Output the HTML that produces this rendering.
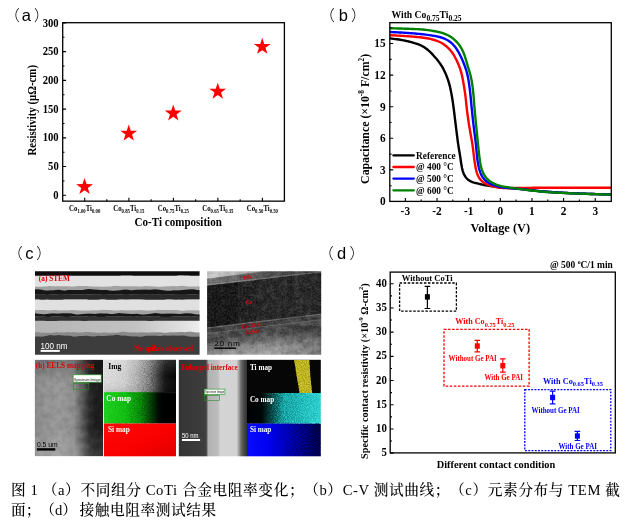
<!DOCTYPE html>
<html lang="zh-CN">
<head>
<meta charset="utf-8">
<title>图 1 CoTi 合金</title>
<style>
html,body{margin:0;padding:0;background:#fff;}
body{width:633px;height:532px;overflow:hidden;position:relative;}
svg{position:absolute;left:0;top:0;display:block;}
text{white-space:pre;text-spacing-trim:space-all;}
</style>
</head>
<body>
<svg width="633" height="532" viewBox="0 0 633 532">
<defs>


<filter id="b1" x="-5%" y="-5%" width="110%" height="110%"><feGaussianBlur stdDeviation="0.7"/></filter>
<filter id="b05" x="-5%" y="-5%" width="110%" height="110%"><feGaussianBlur stdDeviation="0.55"/></filter>
<filter id="nzA" x="0" y="0" width="100%" height="100%" color-interpolation-filters="sRGB">
 <feTurbulence type="fractalNoise" baseFrequency="0.16" numOctaves="3" seed="11"/>
 <feColorMatrix type="matrix" values="1 0 0 0 0  1 0 0 0 0  1 0 0 0 0  0 0 0 0 1"/>
 <feComponentTransfer><feFuncR type="linear" slope="1.8" intercept="-0.4"/><feFuncG type="linear" slope="1.8" intercept="-0.4"/><feFuncB type="linear" slope="1.8" intercept="-0.4"/></feComponentTransfer>
</filter>
<filter id="nzC" x="0" y="0" width="100%" height="100%" color-interpolation-filters="sRGB">
 <feTurbulence type="fractalNoise" baseFrequency="0.55" numOctaves="3" seed="23"/>
 <feColorMatrix type="matrix" values="1 0 0 0 0  1 0 0 0 0  1 0 0 0 0  0 0 0 0 1"/>
 <feComponentTransfer><feFuncR type="linear" slope="2.4" intercept="-0.7"/><feFuncG type="linear" slope="2.4" intercept="-0.7"/><feFuncB type="linear" slope="2.4" intercept="-0.7"/></feComponentTransfer>
</filter>
<filter id="nzB" x="0" y="0" width="100%" height="100%" color-interpolation-filters="sRGB">
 <feTurbulence type="fractalNoise" baseFrequency="1.1" numOctaves="2" seed="5"/>
 <feColorMatrix type="matrix" values="1 0 0 0 0  1 0 0 0 0  1 0 0 0 0  0 0 0 0 1"/>
 <feComponentTransfer><feFuncR type="linear" slope="3" intercept="-1"/><feFuncG type="linear" slope="3" intercept="-1"/><feFuncB type="linear" slope="3" intercept="-1"/></feComponentTransfer>
</filter>
<clipPath id="cSTEM"><rect x="35" y="271.3" width="164.6" height="83.5"/></clipPath>
<clipPath id="cTEM"><rect x="207.1" y="271.2" width="114.1" height="83.6"/></clipPath>
<clipPath id="cEELS"><rect x="34.8" y="359.8" width="68.5" height="96.5"/></clipPath>
<clipPath id="cENL"><rect x="178.8" y="360" width="67.6" height="96"/></clipPath>
<clipPath id="cTi"><rect x="246.4" y="360" width="74.4" height="33"/></clipPath>
<linearGradient id="gEELS" x1="0" x2="1" y1="0" y2="0">
 <stop offset="0" stop-color="#8a8a8a"/><stop offset="0.35" stop-color="#989898"/><stop offset="0.58" stop-color="#8c8c8c"/>
 <stop offset="0.70" stop-color="#585858"/><stop offset="0.80" stop-color="#2a2a2a"/><stop offset="0.88" stop-color="#1e1e1e"/><stop offset="1" stop-color="#1a1a1a"/>
</linearGradient>
<linearGradient id="gEELSv" x1="0" x2="0" y1="0" y2="1">
 <stop offset="0" stop-color="#000" stop-opacity="0.22"/><stop offset="0.25" stop-color="#000" stop-opacity="0"/>
 <stop offset="0.7" stop-color="#fff" stop-opacity="0"/><stop offset="1" stop-color="#fff" stop-opacity="0.12"/>
</linearGradient>
<linearGradient id="gImg" x1="0" x2="1" y1="0" y2="0">
 <stop offset="0" stop-color="#dcdcdc"/><stop offset="0.28" stop-color="#d0d0d0"/><stop offset="0.45" stop-color="#b2b2b2"/><stop offset="0.62" stop-color="#808080"/>
 <stop offset="0.75" stop-color="#3c3c3c"/><stop offset="0.85" stop-color="#121212"/><stop offset="1" stop-color="#040404"/>
</linearGradient>
<linearGradient id="gCoG" x1="0" x2="1" y1="0" y2="0">
 <stop offset="0" stop-color="#1ed01e"/><stop offset="0.3" stop-color="#12bc12"/><stop offset="0.5" stop-color="#0a8a0a"/>
 <stop offset="0.64" stop-color="#054405"/><stop offset="0.75" stop-color="#010c01"/><stop offset="0.82" stop-color="#000"/><stop offset="1" stop-color="#000"/>
</linearGradient>
<linearGradient id="gSiR" x1="0" x2="1" y1="0" y2="1">
 <stop offset="0" stop-color="#ff0808"/><stop offset="0.6" stop-color="#f80000"/><stop offset="1" stop-color="#e00000"/>
</linearGradient>
<linearGradient id="gENL" x1="0" x2="1" y1="0" y2="0">
 <stop offset="0" stop-color="#343434"/><stop offset="0.40" stop-color="#3e3e3e"/><stop offset="0.432" stop-color="#b2b2b2"/>
 <stop offset="0.57" stop-color="#bcbcbc"/><stop offset="0.61" stop-color="#d4d4d4"/><stop offset="0.845" stop-color="#d2d2d2"/>
 <stop offset="0.875" stop-color="#a8a8a8"/><stop offset="0.905" stop-color="#747474"/><stop offset="0.945" stop-color="#4e4e4e"/><stop offset="1" stop-color="#303030"/>
</linearGradient>
<linearGradient id="gCoC" x1="0" x2="1" y1="0" y2="0">
 <stop offset="0" stop-color="#000"/><stop offset="0.2" stop-color="#000606"/><stop offset="0.36" stop-color="#0a5656"/>
 <stop offset="0.5" stop-color="#18a4a4"/><stop offset="0.75" stop-color="#22bcbc"/><stop offset="1" stop-color="#30d0d0"/>
</linearGradient>
<linearGradient id="gSiB" x1="0" x2="1" y1="0" y2="0">
 <stop offset="0" stop-color="#0a0aff"/><stop offset="0.3" stop-color="#0000ee"/><stop offset="0.55" stop-color="#0000b4"/>
 <stop offset="0.8" stop-color="#000078"/><stop offset="1" stop-color="#000048"/>
</linearGradient>
<linearGradient id="gSTEMr" x1="0" x2="1" y1="0" y2="0">
 <stop offset="0" stop-color="#b4b4b4"/><stop offset="0.6" stop-color="#c2c2c2"/><stop offset="0.9" stop-color="#e2e2e2"/><stop offset="1" stop-color="#f0f0f0"/>
</linearGradient>
<linearGradient id="gTEMbot" gradientUnits="userSpaceOnUse" x1="264" y1="333" x2="267" y2="358">
 <stop offset="0" stop-color="#444"/><stop offset="0.2" stop-color="#5c5c5c"/><stop offset="0.5" stop-color="#828282"/><stop offset="0.8" stop-color="#a0a0a0"/><stop offset="1" stop-color="#aaa"/>
</linearGradient>
<linearGradient id="gTEMbotv" x1="0" x2="1" y1="0" y2="0">
 <stop offset="0" stop-color="#000" stop-opacity="0.16"/><stop offset="0.18" stop-color="#000" stop-opacity="0"/><stop offset="0.55" stop-color="#000" stop-opacity="0"/><stop offset="0.8" stop-color="#000" stop-opacity="0.2"/><stop offset="1" stop-color="#000" stop-opacity="0.34"/>
</linearGradient>
<linearGradient id="gTEMtop" x1="0" x2="1" y1="0" y2="0">
 <stop offset="0" stop-color="#6e6e6e"/><stop offset="0.3" stop-color="#5c5c5c"/><stop offset="0.6" stop-color="#444"/><stop offset="1" stop-color="#2c2c2c"/>
</linearGradient>
<linearGradient id="gTEMwedge" x1="0" x2="1" y1="0" y2="0">
 <stop offset="0" stop-color="#cacaca"/><stop offset="0.5" stop-color="#b0b0b0"/><stop offset="1" stop-color="#707070"/>
</linearGradient>
<linearGradient id="gTEMline" x1="0" x2="1" y1="0" y2="0">
 <stop offset="0" stop-color="#8a8a8a"/><stop offset="0.6" stop-color="#6c6c6c"/><stop offset="1" stop-color="#505050"/>
</linearGradient>
<linearGradient id="gTEMsix" x1="0" x2="1" y1="0" y2="0">
 <stop offset="0" stop-color="#505050"/><stop offset="0.3" stop-color="#3c3c3c"/><stop offset="1" stop-color="#464646"/>
</linearGradient>
<linearGradient id="gTEMco" x1="0" x2="1" y1="0" y2="0">
 <stop offset="0" stop-color="#080808"/><stop offset="0.22" stop-color="#0e0e0e"/><stop offset="0.45" stop-color="#1a1a1a"/><stop offset="0.8" stop-color="#202020"/><stop offset="1" stop-color="#181818"/>
</linearGradient>
<linearGradient id="gImgv" x1="0" x2="0" y1="0" y2="1">
 <stop offset="0" stop-color="#fff" stop-opacity="0.14"/><stop offset="0.5" stop-color="#fff" stop-opacity="0"/><stop offset="1" stop-color="#000" stop-opacity="0.1"/>
</linearGradient>
</defs>
<rect x="0" y="0" width="633" height="532" fill="#fff"/>

<g id="panel-a">
<text id="lab-a" y="20.9" fill="#000" font-family='"Liberation Sans", "Noto Sans CJK SC", sans-serif'><tspan x="4.65" font-size="15" font-weight="300">（</tspan><tspan x="21.75" font-size="16.5" font-weight="400">a</tspan><tspan x="34.1" font-size="15" font-weight="300">）</tspan></text>
<rect x="62.7" y="22.7" width="221.7" height="178.45" fill="none" stroke="#000" stroke-width="1.3"/>
<path d="M62.7 195.3h3.4M62.7 166.57h3.4M62.7 137.84h3.4M62.7 109.11h3.4M62.7 80.38h3.4M62.7 51.65h3.4M62.7 22.92h3.4M62.7 180.94h1.8M62.7 152.21h1.8M62.7 123.48h1.8M62.7 94.75h1.8M62.7 66.02h1.8M62.7 37.29h1.8M84.7 201.15v-3.4M128.9 201.15v-3.4M173.4 201.15v-3.4M217.9 201.15v-3.4M262.4 201.15v-3.4M106.8 201.15v-1.8M151.15 201.15v-1.8M195.65 201.15v-1.8M240.15 201.15v-1.8" stroke="#000" stroke-width="1.1" fill="none"/>
<text transform="translate(58.7 198.9) scale(0.93 1)" font-size="11.45" fill="#000" text-anchor="end" font-weight="bold" font-family='"Liberation Serif", "Noto Serif CJK SC", serif' >0</text>
<text transform="translate(58.7 170.17) scale(0.93 1)" font-size="11.45" fill="#000" text-anchor="end" font-weight="bold" font-family='"Liberation Serif", "Noto Serif CJK SC", serif' >50</text>
<text transform="translate(58.7 141.44) scale(0.93 1)" font-size="11.45" fill="#000" text-anchor="end" font-weight="bold" font-family='"Liberation Serif", "Noto Serif CJK SC", serif' >100</text>
<text transform="translate(58.7 112.71) scale(0.93 1)" font-size="11.45" fill="#000" text-anchor="end" font-weight="bold" font-family='"Liberation Serif", "Noto Serif CJK SC", serif' >150</text>
<text transform="translate(58.7 83.98) scale(0.93 1)" font-size="11.45" fill="#000" text-anchor="end" font-weight="bold" font-family='"Liberation Serif", "Noto Serif CJK SC", serif' >200</text>
<text transform="translate(58.7 55.25) scale(0.93 1)" font-size="11.45" fill="#000" text-anchor="end" font-weight="bold" font-family='"Liberation Serif", "Noto Serif CJK SC", serif' >250</text>
<text transform="translate(58.7 26.52) scale(0.93 1)" font-size="11.45" fill="#000" text-anchor="end" font-weight="bold" font-family='"Liberation Serif", "Noto Serif CJK SC", serif' >300</text>
<text x="84.7" y="210.8" font-size="7.5" fill="#000" text-anchor="middle" font-weight="bold" font-family='"Liberation Serif", "Noto Serif CJK SC", serif' textLength="31.2" lengthAdjust="spacingAndGlyphs">Co<tspan font-size="70%" dy="0.36em">1.00</tspan><tspan dy="-0.25em">&#8203;</tspan>Ti<tspan font-size="70%" dy="0.36em">0.00</tspan><tspan dy="-0.25em">&#8203;</tspan></text>
<text x="128.9" y="210.8" font-size="7.5" fill="#000" text-anchor="middle" font-weight="bold" font-family='"Liberation Serif", "Noto Serif CJK SC", serif' textLength="31.2" lengthAdjust="spacingAndGlyphs">Co<tspan font-size="70%" dy="0.36em">0.85</tspan><tspan dy="-0.25em">&#8203;</tspan>Ti<tspan font-size="70%" dy="0.36em">0.15</tspan><tspan dy="-0.25em">&#8203;</tspan></text>
<text x="173.4" y="210.8" font-size="7.5" fill="#000" text-anchor="middle" font-weight="bold" font-family='"Liberation Serif", "Noto Serif CJK SC", serif' textLength="31.2" lengthAdjust="spacingAndGlyphs">Co<tspan font-size="70%" dy="0.36em">0.75</tspan><tspan dy="-0.25em">&#8203;</tspan>Ti<tspan font-size="70%" dy="0.36em">0.25</tspan><tspan dy="-0.25em">&#8203;</tspan></text>
<text x="217.9" y="210.8" font-size="7.5" fill="#000" text-anchor="middle" font-weight="bold" font-family='"Liberation Serif", "Noto Serif CJK SC", serif' textLength="31.2" lengthAdjust="spacingAndGlyphs">Co<tspan font-size="70%" dy="0.36em">0.65</tspan><tspan dy="-0.25em">&#8203;</tspan>Ti<tspan font-size="70%" dy="0.36em">0.35</tspan><tspan dy="-0.25em">&#8203;</tspan></text>
<text x="262.4" y="210.8" font-size="7.5" fill="#000" text-anchor="middle" font-weight="bold" font-family='"Liberation Serif", "Noto Serif CJK SC", serif' textLength="31.2" lengthAdjust="spacingAndGlyphs">Co<tspan font-size="70%" dy="0.36em">0.50</tspan><tspan dy="-0.25em">&#8203;</tspan>Ti<tspan font-size="70%" dy="0.36em">0.50</tspan><tspan dy="-0.25em">&#8203;</tspan></text>
<text transform="translate(178.2 225.9) scale(0.93 1)" font-size="11.88" fill="#000" text-anchor="middle" font-weight="bold" font-family='"Liberation Serif", "Noto Serif CJK SC", serif' >Co-Ti composition</text>
<text transform="translate(36.05,110.25) rotate(-90)" font-size="11.9" font-weight="bold" text-anchor="middle" textLength="90.5" lengthAdjust="spacingAndGlyphs" font-family='"Liberation Serif", "Noto Serif CJK SC", serif'>Resistivity (μΩ-cm)</text>
<polygon points="84.55,178.03 86.58,184.09 92.97,184.15 87.83,187.95 89.75,194.04 84.55,190.33 79.35,194.04 81.27,187.95 76.13,184.15 82.52,184.09" fill="#ff0000"/>
<polygon points="128.75,124.59 130.78,130.65 137.17,130.71 132.03,134.51 133.95,140.6 128.75,136.89 123.55,140.6 125.47,134.51 120.33,130.71 126.72,130.65" fill="#ff0000"/>
<polygon points="173.25,104.48 175.28,110.54 181.67,110.6 176.53,114.4 178.45,120.49 173.25,116.78 168.05,120.49 169.97,114.4 164.83,110.6 171.22,110.54" fill="#ff0000"/>
<polygon points="217.75,82.65 219.78,88.71 226.17,88.76 221.03,92.56 222.95,98.66 217.75,94.95 212.55,98.66 214.47,92.56 209.33,88.76 215.72,88.71" fill="#ff0000"/>
<polygon points="262.25,37.83 264.28,43.89 270.67,43.94 265.53,47.74 267.45,53.84 262.25,50.13 257.05,53.84 258.97,47.74 253.83,43.94 260.22,43.89" fill="#ff0000"/>
</g>
<g id="panel-b">
<text id="lab-b" y="21" fill="#000" font-family='"Liberation Sans", "Noto Sans CJK SC", sans-serif'><tspan x="319.85" font-size="15" font-weight="300">（</tspan><tspan x="338.7" font-size="16.5" font-weight="400">b</tspan><tspan x="350.9" font-size="15" font-weight="300">）</tspan></text>
<clipPath id="cB"><rect x="389.8" y="22.7" width="221.5" height="178.7"/></clipPath>
<g clip-path="url(#cB)" fill="none" stroke-width="2.4" stroke-linejoin="round" stroke-linecap="round">
<path d="M382.65 37.26 L383.74 37.43 L385.22 37.64 L386.86 37.88 L388.54 38.13 L390.23 38.37 L391.92 38.61 L393.61 38.84 L395.3 39.07 L396.99 39.31 L398.68 39.55 L400.37 39.8 L402.05 40.08 L403.73 40.38 L405.4 40.71 L407.06 41.07 L408.73 41.46 L410.38 41.88 L412.03 42.32 L413.68 42.79 L415.32 43.28 L416.95 43.8 L418.54 44.38 L420.11 45.04 L421.64 45.77 L423.13 46.6 L424.59 47.5 L426 48.47 L427.35 49.49 L428.65 50.58 L429.9 51.73 L431.1 52.94 L432.28 54.19 L433.44 55.46 L434.58 56.73 L435.71 58.02 L436.82 59.31 L437.9 60.64 L438.93 61.99 L439.93 63.37 L440.89 64.78 L441.8 66.23 L442.66 67.7 L443.48 69.19 L444.25 70.71 L444.98 72.25 L445.68 73.81 L446.33 75.39 L446.96 76.98 L447.55 78.58 L448.11 80.19 L448.63 81.82 L449.11 83.45 L449.56 85.09 L449.97 86.75 L450.35 88.41 L450.71 90.08 L451.05 91.75 L451.37 93.43 L451.68 95.11 L451.97 96.79 L452.25 98.47 L452.52 100.16 L452.77 101.85 L453.02 103.54 L453.25 105.23 L453.48 106.92 L453.71 108.61 L453.93 110.3 L454.14 111.99 L454.35 113.68 L454.55 115.38 L454.76 117.07 L454.96 118.77 L455.17 120.46 L455.37 122.15 L455.58 123.85 L455.79 125.54 L456 127.23 L456.21 128.93 L456.42 130.62 L456.63 132.31 L456.85 134.01 L457.06 135.7 L457.28 137.39 L457.5 139.08 L457.72 140.78 L457.95 142.47 L458.19 144.15 L458.44 145.84 L458.69 147.53 L458.97 149.21 L459.25 150.89 L459.54 152.57 L459.83 154.26 L460.11 155.94 L460.37 157.63 L460.62 159.32 L460.85 161.02 L461.09 162.72 L461.34 164.41 L461.62 166.08 L461.95 167.75 L462.34 169.42 L462.8 171.07 L463.35 172.7 L464 174.28 L464.77 175.78 L465.69 177.19 L466.78 178.5 L468.01 179.66 L469.38 180.63 L470.84 181.41 L472.4 182.03 L474.03 182.54 L475.7 183.01 L477.38 183.44 L479.04 183.85 L480.71 184.24 L482.37 184.61 L484.05 184.95 L485.72 185.27 L487.4 185.56 L489.09 185.83 L490.77 186.09 L492.46 186.33 L494.15 186.56 L495.85 186.78 L497.54 186.99 L499.23 187.19 L500.93 187.38 L502.63 187.56 L504.32 187.73 L506.02 187.88 L507.72 188.01 L509.42 188.14 L511.13 188.26 L512.83 188.38 L514.53 188.49 L516.23 188.61 L517.93 188.74 L519.63 188.88 L521.33 189.04 L523.03 189.21 L524.73 189.39 L526.42 189.58 L528.12 189.79 L529.81 190 L531.5 190.21 L533.2 190.43 L534.89 190.64 L536.59 190.84 L538.28 191.04 L539.98 191.23 L541.67 191.4 L543.37 191.55 L545.07 191.7 L546.77 191.82 L548.47 191.95 L550.17 192.06 L551.87 192.18 L553.57 192.29 L555.27 192.4 L556.98 192.5 L558.68 192.6 L560.39 192.7 L562.09 192.79 L563.79 192.88 L565.5 192.97 L567.2 193.05 L568.91 193.13 L570.61 193.21 L572.32 193.29 L574.02 193.36 L575.73 193.43 L577.43 193.5 L579.14 193.57 L580.84 193.63 L582.55 193.69 L584.25 193.75 L585.96 193.8 L587.66 193.86 L589.37 193.91 L591.07 193.96 L592.78 194 L594.48 194.05 L596.19 194.1 L597.89 194.14 L599.6 194.18 L601.31 194.23 L603.01 194.27 L604.72 194.32 L606.42 194.36 L608.13 194.41 L609.83 194.45 L611.54 194.5 L613.24 194.55 L614.93 194.6 L616.56 194.64 L617.94 194.68" stroke="#000"/>
<path d="M382.58 34.83 L383.71 34.89 L385.24 34.97 L386.93 35.06 L388.67 35.15 L390.41 35.23 L392.15 35.32 L393.89 35.41 L395.63 35.49 L397.37 35.58 L399.1 35.67 L400.84 35.76 L402.58 35.86 L404.32 35.96 L406.06 36.08 L407.8 36.2 L409.53 36.33 L411.27 36.47 L413.01 36.61 L414.74 36.77 L416.47 36.94 L418.21 37.12 L419.94 37.3 L421.67 37.51 L423.4 37.73 L425.13 37.97 L426.85 38.25 L428.56 38.55 L430.26 38.9 L431.96 39.31 L433.65 39.76 L435.32 40.28 L436.96 40.86 L438.57 41.5 L440.14 42.22 L441.68 43.04 L443.17 43.94 L444.62 44.93 L446 45.99 L447.32 47.11 L448.58 48.31 L449.78 49.58 L450.91 50.91 L451.96 52.3 L452.94 53.73 L453.86 55.2 L454.72 56.72 L455.55 58.26 L456.34 59.81 L457.11 61.38 L457.84 62.96 L458.52 64.56 L459.16 66.18 L459.76 67.82 L460.32 69.47 L460.84 71.13 L461.32 72.8 L461.76 74.49 L462.15 76.18 L462.5 77.89 L462.83 79.6 L463.14 81.31 L463.43 83.03 L463.73 84.75 L464.02 86.47 L464.3 88.19 L464.58 89.91 L464.84 91.63 L465.09 93.35 L465.33 95.08 L465.54 96.8 L465.74 98.53 L465.92 100.26 L466.09 102 L466.26 103.73 L466.44 105.46 L466.63 107.19 L466.84 108.92 L467.05 110.65 L467.27 112.38 L467.49 114.11 L467.73 115.83 L467.97 117.56 L468.21 119.28 L468.46 121.01 L468.72 122.73 L468.98 124.45 L469.25 126.17 L469.53 127.89 L469.83 129.61 L470.13 131.32 L470.44 133.04 L470.75 134.75 L471.07 136.46 L471.37 138.18 L471.67 139.9 L471.97 141.61 L472.24 143.33 L472.51 145.05 L472.75 146.77 L472.98 148.5 L473.18 150.23 L473.38 151.96 L473.58 153.69 L473.79 155.42 L474 157.15 L474.23 158.88 L474.47 160.61 L474.72 162.33 L474.98 164.06 L475.27 165.77 L475.59 167.48 L475.94 169.19 L476.35 170.89 L476.83 172.56 L477.38 174.21 L478.05 175.81 L478.86 177.35 L479.81 178.8 L480.89 180.14 L482.13 181.34 L483.49 182.4 L484.96 183.32 L486.51 184.11 L488.11 184.79 L489.75 185.37 L491.42 185.89 L493.1 186.37 L494.79 186.79 L496.5 187.16 L498.21 187.46 L499.93 187.7 L501.66 187.88 L503.4 188 L505.14 188.06 L506.88 188.09 L508.62 188.09 L510.36 188.08 L512.1 188.07 L513.85 188.05 L515.59 188.04 L517.33 188.02 L519.07 188.01 L520.82 187.99 L522.56 187.97 L524.3 187.95 L526.04 187.93 L527.78 187.9 L529.52 187.87 L531.26 187.84 L533.01 187.82 L534.75 187.79 L536.49 187.77 L538.23 187.75 L539.97 187.73 L541.71 187.72 L543.45 187.71 L545.19 187.7 L546.94 187.7 L548.68 187.7 L550.42 187.7 L552.16 187.7 L553.9 187.7 L555.64 187.7 L557.39 187.7 L559.13 187.7 L560.87 187.7 L562.61 187.7 L564.35 187.7 L566.09 187.7 L567.83 187.7 L569.58 187.7 L571.32 187.7 L573.06 187.7 L574.8 187.7 L576.54 187.7 L578.28 187.7 L580.03 187.7 L581.77 187.7 L583.51 187.7 L585.25 187.7 L586.99 187.7 L588.73 187.7 L590.47 187.7 L592.22 187.7 L593.96 187.7 L595.7 187.7 L597.44 187.7 L599.18 187.7 L600.92 187.7 L602.67 187.7 L604.41 187.7 L606.15 187.7 L607.89 187.7 L609.63 187.7 L611.37 187.7 L613.11 187.7 L614.84 187.7 L616.5 187.7 L617.93 187.7" stroke="#ff0000"/>
<path d="M382.58 31.63 L383.73 31.69 L385.28 31.77 L386.99 31.86 L388.75 31.95 L390.51 32.04 L392.27 32.13 L394.03 32.22 L395.79 32.3 L397.55 32.39 L399.31 32.48 L401.07 32.57 L402.83 32.67 L404.58 32.78 L406.34 32.89 L408.1 33.01 L409.86 33.13 L411.62 33.26 L413.37 33.4 L415.13 33.55 L416.88 33.71 L418.64 33.87 L420.39 34.05 L422.15 34.23 L423.91 34.42 L425.67 34.63 L427.43 34.84 L429.19 35.08 L430.94 35.33 L432.69 35.6 L434.42 35.9 L436.14 36.22 L437.85 36.58 L439.54 37 L441.24 37.49 L442.92 38.07 L444.57 38.73 L446.17 39.48 L447.7 40.3 L449.17 41.23 L450.56 42.27 L451.9 43.43 L453.16 44.69 L454.35 46 L455.45 47.37 L456.48 48.79 L457.44 50.27 L458.34 51.79 L459.2 53.34 L460.02 54.9 L460.79 56.49 L461.53 58.09 L462.24 59.7 L462.92 61.33 L463.59 62.96 L464.23 64.6 L464.85 66.25 L465.44 67.91 L465.99 69.58 L466.51 71.27 L466.98 72.97 L467.4 74.67 L467.78 76.39 L468.12 78.12 L468.43 79.86 L468.72 81.6 L468.99 83.34 L469.24 85.08 L469.48 86.83 L469.71 88.57 L469.93 90.32 L470.13 92.07 L470.33 93.82 L470.52 95.58 L470.7 97.33 L470.87 99.08 L471.03 100.84 L471.19 102.59 L471.35 104.34 L471.52 106.1 L471.69 107.85 L471.86 109.61 L472.04 111.36 L472.22 113.11 L472.4 114.86 L472.59 116.62 L472.78 118.37 L472.97 120.12 L473.16 121.87 L473.36 123.62 L473.56 125.37 L473.77 127.12 L473.99 128.87 L474.21 130.62 L474.44 132.36 L474.66 134.11 L474.89 135.86 L475.11 137.61 L475.33 139.36 L475.54 141.11 L475.75 142.85 L475.94 144.61 L476.12 146.36 L476.29 148.11 L476.44 149.87 L476.58 151.62 L476.73 153.38 L476.89 155.13 L477.07 156.89 L477.28 158.64 L477.51 160.39 L477.77 162.13 L478.06 163.87 L478.39 165.6 L478.76 167.32 L479.19 169.03 L479.69 170.73 L480.27 172.4 L480.93 174.02 L481.71 175.6 L482.61 177.12 L483.63 178.55 L484.78 179.86 L486.06 181.03 L487.47 182.08 L488.97 183.01 L490.53 183.82 L492.14 184.54 L493.78 185.17 L495.46 185.73 L497.16 186.21 L498.87 186.63 L500.6 186.99 L502.33 187.3 L504.08 187.55 L505.83 187.74 L507.58 187.89 L509.34 188.02 L511.1 188.15 L512.85 188.28 L514.61 188.44 L516.36 188.6 L518.12 188.78 L519.87 188.96 L521.62 189.15 L523.37 189.34 L525.13 189.54 L526.88 189.74 L528.63 189.94 L530.38 190.15 L532.13 190.34 L533.88 190.54 L535.63 190.73 L537.39 190.91 L539.14 191.09 L540.89 191.25 L542.65 191.4 L544.4 191.55 L546.16 191.68 L547.91 191.81 L549.67 191.93 L551.43 192.05 L553.18 192.17 L554.94 192.29 L556.7 192.4 L558.46 192.51 L560.22 192.62 L561.98 192.72 L563.74 192.83 L565.5 192.92 L567.26 193.02 L569.02 193.11 L570.78 193.2 L572.54 193.28 L574.3 193.36 L576.06 193.44 L577.82 193.51 L579.58 193.58 L581.34 193.65 L583.1 193.71 L584.86 193.77 L586.62 193.83 L588.38 193.88 L590.14 193.93 L591.9 193.98 L593.66 194.03 L595.43 194.08 L597.19 194.12 L598.95 194.17 L600.71 194.21 L602.47 194.26 L604.23 194.3 L605.99 194.35 L607.76 194.4 L609.52 194.45 L611.28 194.49 L613.04 194.54 L614.79 194.59 L616.47 194.64 L617.91 194.68" stroke="#0000ff"/>
<path d="M382.58 27.97 L383.74 28.01 L385.31 28.06 L387.04 28.11 L388.82 28.17 L390.59 28.23 L392.37 28.29 L394.15 28.34 L395.93 28.4 L397.71 28.46 L399.48 28.51 L401.26 28.57 L403.04 28.63 L404.82 28.69 L406.6 28.75 L408.37 28.81 L410.15 28.87 L411.93 28.94 L413.71 29 L415.49 29.08 L417.26 29.16 L419.04 29.26 L420.81 29.37 L422.58 29.52 L424.36 29.69 L426.13 29.89 L427.9 30.12 L429.67 30.37 L431.44 30.65 L433.2 30.96 L434.94 31.28 L436.68 31.63 L438.41 32 L440.14 32.42 L441.86 32.9 L443.56 33.45 L445.24 34.07 L446.87 34.76 L448.46 35.53 L449.99 36.39 L451.48 37.37 L452.92 38.44 L454.29 39.59 L455.6 40.8 L456.83 42.07 L458 43.4 L459.11 44.81 L460.15 46.27 L461.09 47.78 L461.94 49.32 L462.72 50.91 L463.43 52.53 L464.08 54.2 L464.69 55.88 L465.26 57.57 L465.8 59.27 L466.29 60.98 L466.77 62.69 L467.26 64.41 L467.76 66.11 L468.29 67.81 L468.82 69.51 L469.35 71.21 L469.84 72.92 L470.3 74.64 L470.72 76.36 L471.1 78.1 L471.46 79.84 L471.78 81.59 L472.08 83.35 L472.34 85.1 L472.58 86.87 L472.8 88.63 L473 90.4 L473.19 92.17 L473.37 93.94 L473.54 95.71 L473.69 97.48 L473.83 99.26 L473.96 101.03 L474.09 102.8 L474.22 104.58 L474.36 106.35 L474.5 108.13 L474.65 109.9 L474.81 111.67 L474.98 113.44 L475.14 115.21 L475.31 116.98 L475.49 118.75 L475.66 120.52 L475.83 122.29 L476.01 124.06 L476.18 125.83 L476.35 127.6 L476.52 129.37 L476.7 131.14 L476.87 132.92 L477.05 134.69 L477.23 136.46 L477.4 138.23 L477.58 139.99 L477.76 141.76 L477.94 143.53 L478.12 145.3 L478.31 147.07 L478.49 148.84 L478.67 150.61 L478.85 152.38 L479.04 154.15 L479.25 155.92 L479.48 157.68 L479.72 159.45 L479.98 161.21 L480.27 162.97 L480.6 164.71 L480.98 166.45 L481.44 168.17 L481.97 169.87 L482.59 171.54 L483.3 173.16 L484.12 174.75 L485.05 176.27 L486.1 177.69 L487.27 179 L488.56 180.19 L489.97 181.28 L491.47 182.26 L493.02 183.14 L494.61 183.91 L496.26 184.6 L497.93 185.2 L499.64 185.71 L501.36 186.14 L503.1 186.52 L504.85 186.85 L506.6 187.15 L508.36 187.42 L510.12 187.67 L511.88 187.92 L513.65 188.15 L515.41 188.39 L517.17 188.63 L518.94 188.87 L520.7 189.11 L522.46 189.35 L524.23 189.59 L525.99 189.82 L527.76 190.06 L529.53 190.28 L531.29 190.5 L533.06 190.72 L534.83 190.92 L536.59 191.12 L538.36 191.31 L540.13 191.48 L541.9 191.64 L543.67 191.79 L545.44 191.93 L547.21 192.05 L548.99 192.17 L550.76 192.29 L552.53 192.4 L554.31 192.51 L556.08 192.61 L557.86 192.71 L559.64 192.81 L561.41 192.9 L563.19 192.99 L564.97 193.07 L566.75 193.16 L568.53 193.24 L570.3 193.32 L572.08 193.39 L573.86 193.46 L575.64 193.53 L577.42 193.6 L579.19 193.67 L580.97 193.73 L582.75 193.79 L584.53 193.85 L586.3 193.91 L588.08 193.97 L589.86 194.02 L591.64 194.07 L593.42 194.12 L595.19 194.17 L596.97 194.21 L598.75 194.26 L600.53 194.31 L602.31 194.35 L604.09 194.4 L605.86 194.45 L607.64 194.49 L609.42 194.54 L611.2 194.59 L612.98 194.64 L614.74 194.69 L616.45 194.74 L617.91 194.78" stroke="#008000"/>
</g>
<rect x="389.8" y="22.7" width="221.5" height="178.7" fill="none" stroke="#000" stroke-width="1.3"/>
<path d="M389.8 201.5h3.4M389.8 169.91h3.4M389.8 138.32h3.4M389.8 106.73h3.4M389.8 75.14h3.4M389.8 43.55h3.4M389.8 185.71h1.8M389.8 154.12h1.8M389.8 122.53h1.8M389.8 90.94h1.8M389.8 59.34h1.8M389.8 27.76h1.8M405.35 201.4v-3.4M437 201.4v-3.4M468.65 201.4v-3.4M500.3 201.4v-3.4M531.95 201.4v-3.4M563.6 201.4v-3.4M595.25 201.4v-3.4M421.18 201.4v-1.8M452.83 201.4v-1.8M484.48 201.4v-1.8M516.12 201.4v-1.8M547.77 201.4v-1.8M579.42 201.4v-1.8" stroke="#000" stroke-width="1.1" fill="none"/>
<text transform="translate(385.6 205.35) scale(0.93 1)" font-size="12.2" fill="#000" text-anchor="end" font-weight="bold" font-family='"Liberation Serif", "Noto Serif CJK SC", serif' >0</text>
<text transform="translate(385.6 173.76) scale(0.93 1)" font-size="12.2" fill="#000" text-anchor="end" font-weight="bold" font-family='"Liberation Serif", "Noto Serif CJK SC", serif' >3</text>
<text transform="translate(385.6 142.17) scale(0.93 1)" font-size="12.2" fill="#000" text-anchor="end" font-weight="bold" font-family='"Liberation Serif", "Noto Serif CJK SC", serif' >6</text>
<text transform="translate(385.6 110.58) scale(0.93 1)" font-size="12.2" fill="#000" text-anchor="end" font-weight="bold" font-family='"Liberation Serif", "Noto Serif CJK SC", serif' >9</text>
<text transform="translate(385.6 78.99) scale(0.93 1)" font-size="12.2" fill="#000" text-anchor="end" font-weight="bold" font-family='"Liberation Serif", "Noto Serif CJK SC", serif' >12</text>
<text transform="translate(385.6 47.4) scale(0.93 1)" font-size="12.2" fill="#000" text-anchor="end" font-weight="bold" font-family='"Liberation Serif", "Noto Serif CJK SC", serif' >15</text>
<text transform="translate(405.35 215) scale(0.93 1)" font-size="12.2" fill="#000" text-anchor="middle" font-weight="bold" font-family='"Liberation Serif", "Noto Serif CJK SC", serif' >-3</text>
<text transform="translate(437 215) scale(0.93 1)" font-size="12.2" fill="#000" text-anchor="middle" font-weight="bold" font-family='"Liberation Serif", "Noto Serif CJK SC", serif' >-2</text>
<text transform="translate(468.65 215) scale(0.93 1)" font-size="12.2" fill="#000" text-anchor="middle" font-weight="bold" font-family='"Liberation Serif", "Noto Serif CJK SC", serif' >-1</text>
<text transform="translate(500.3 215) scale(0.93 1)" font-size="12.2" fill="#000" text-anchor="middle" font-weight="bold" font-family='"Liberation Serif", "Noto Serif CJK SC", serif' >0</text>
<text transform="translate(531.95 215) scale(0.93 1)" font-size="12.2" fill="#000" text-anchor="middle" font-weight="bold" font-family='"Liberation Serif", "Noto Serif CJK SC", serif' >1</text>
<text transform="translate(563.6 215) scale(0.93 1)" font-size="12.2" fill="#000" text-anchor="middle" font-weight="bold" font-family='"Liberation Serif", "Noto Serif CJK SC", serif' >2</text>
<text transform="translate(595.25 215) scale(0.93 1)" font-size="12.2" fill="#000" text-anchor="middle" font-weight="bold" font-family='"Liberation Serif", "Noto Serif CJK SC", serif' >3</text>
<text transform="translate(500.3 231.6) scale(0.93 1)" font-size="13.28" fill="#000" text-anchor="middle" font-weight="bold" font-family='"Liberation Serif", "Noto Serif CJK SC", serif' >Voltage (V)</text>
<text transform="translate(369.2,118.9) rotate(-90)" font-size="13.2" font-weight="bold" text-anchor="middle" textLength="130" lengthAdjust="spacingAndGlyphs" font-family='"Liberation Serif", "Noto Serif CJK SC", serif'>Capacitance (×10<tspan font-size="62%" dy="-0.65em">-8</tspan><tspan dy="0.4em">&#8203;</tspan> F/cm<tspan font-size="62%" dy="-0.65em">2</tspan><tspan dy="0.4em">&#8203;</tspan>)</text>
<text transform="translate(391.5 17.8) scale(0.93 1)" font-size="10.37" fill="#000" text-anchor="start" font-weight="bold" font-family='"Liberation Serif", "Noto Serif CJK SC", serif' >With Co<tspan font-size="78%" dy="0.42em">0.75</tspan><tspan dy="-0.33em">&#8203;</tspan>Ti<tspan font-size="78%" dy="0.42em">0.25</tspan><tspan dy="-0.33em">&#8203;</tspan></text>
<path d="M393.4 155.4H413.8" stroke="#000" stroke-width="2.3" stroke-linecap="round"/>
<text transform="translate(416 158.6) scale(0.93 1)" font-size="10.04" fill="#000" text-anchor="start" font-weight="bold" font-family='"Liberation Serif", "Noto Serif CJK SC", serif' >Reference</text>
<path d="M393.4 167H413.8" stroke="#ff0000" stroke-width="2.3" stroke-linecap="round"/>
<text transform="translate(416 170.2) scale(0.93 1)" font-size="10.04" fill="#000" text-anchor="start" font-weight="bold" font-family='"Liberation Serif", "Noto Serif CJK SC", serif' >@ 400 °C</text>
<path d="M393.4 178.6H413.8" stroke="#0000ff" stroke-width="2.3" stroke-linecap="round"/>
<text transform="translate(416 181.8) scale(0.93 1)" font-size="10.04" fill="#000" text-anchor="start" font-weight="bold" font-family='"Liberation Serif", "Noto Serif CJK SC", serif' >@ 500 °C</text>
<path d="M393.4 190.3H413.8" stroke="#008000" stroke-width="2.3" stroke-linecap="round"/>
<text transform="translate(416 193.5) scale(0.93 1)" font-size="10.04" fill="#000" text-anchor="start" font-weight="bold" font-family='"Liberation Serif", "Noto Serif CJK SC", serif' >@ 600 °C</text>
</g>
<g id="panel-c">
<text id="lab-c" y="258.9" fill="#000" font-family='"Liberation Sans", "Noto Sans CJK SC", sans-serif'><tspan x="7.75" font-size="15" font-weight="300">（</tspan><tspan x="25.15" font-size="16.5" font-weight="400">c</tspan><tspan x="36.25" font-size="15" font-weight="300">）</tspan></text>
<g clip-path="url(#cSTEM)"><g filter="url(#b05)">
<polygon points="32,268 35,268 38,268 41,268 44,268 47,268 50,268 53,268 56,268 59,268 62,268 65,268 68,268 71,268 74,268 77,268 80,268 83,268 86,268 89,268 92,268 95,268 98,268 101,268 104,268 107,268 110,268 113,268 116,268 119,268 122,268 125,268 128,268 131,268 134,268 137,268 140,268 143,268 146,268 149,268 152,268 155,268 158,268 161,268 164,268 167,268 170,268 173,268 176,268 179,268 182,268 185,268 188,268 191,268 194,268 197,268 200,268 203,268 203,276.14 200,276.06 197,276.02 194,276.07 191,276.02 188,275.92 185,275.9 182,275.86 179,275.85 176,275.99 173,276.06 170,276.02 167,276.02 164,276.03 161,275.99 158,276.03 155,276.06 152,275.98 149,275.96 146,276.04 143,276.07 140,276.09 137,276.12 134,276.01 131,275.9 128,275.92 125,275.92 122,275.89 119,275.93 116,275.94 113,275.93 110,276.04 107,276.15 104,276.11 101,276.07 98,276.04 95,275.96 92,275.98 89,276.06 86,276.02 83,275.97 80,276.01 77,276.01 74,276 71,276.04 68,275.97 65,275.85 62,275.87 59,275.92 56,275.95 53,276.05 50,276.1 47,276.04 44,276.08 41,276.14 38,276.09 35,276.03 32,275.99" fill="#0e0e0e"/>
<polygon points="32,275.69 35,275.73 38,275.79 41,275.84 44,275.78 47,275.74 50,275.8 53,275.75 56,275.65 59,275.62 62,275.57 65,275.55 68,275.67 71,275.74 74,275.7 77,275.71 80,275.71 83,275.67 86,275.72 89,275.76 92,275.68 95,275.66 98,275.74 101,275.77 104,275.81 107,275.85 110,275.74 113,275.63 116,275.64 119,275.63 122,275.59 125,275.62 128,275.62 131,275.6 134,275.71 137,275.82 140,275.79 143,275.77 146,275.74 149,275.66 152,275.68 155,275.76 158,275.73 161,275.69 164,275.73 167,275.72 170,275.72 173,275.76 176,275.69 179,275.55 182,275.56 185,275.6 188,275.62 191,275.72 194,275.77 197,275.72 200,275.76 203,275.84 203,286.49 200,286.52 197,286.84 194,286.89 191,286.79 188,286.68 185,286.32 182,286.08 179,286.3 176,286.43 173,286.38 170,286.53 167,286.65 164,286.7 161,287.01 158,287.14 155,286.79 152,286.55 149,286.5 146,286.4 143,286.54 140,286.77 137,286.61 134,286.46 131,286.63 128,286.65 125,286.56 122,286.56 119,286.31 116,286.07 113,286.35 110,286.69 107,286.8 104,286.96 101,286.97 98,286.76 95,286.81 92,286.92 89,286.63 86,286.36 83,286.31 80,286.23 77,286.39 74,286.77 71,286.75 68,286.52 65,286.54 62,286.51 59,286.45 56,286.62 53,286.59 50,286.38 47,286.56 44,286.9 41,286.99 38,287.06 35,286.97 32,286.54" fill="#e2e2e2"/>
<polygon points="32,286.24 35,286.67 38,286.76 41,286.69 44,286.6 47,286.26 50,286.08 53,286.29 56,286.32 59,286.15 62,286.21 65,286.24 68,286.22 71,286.45 74,286.47 77,286.09 80,285.93 83,286.01 86,286.06 89,286.33 92,286.62 95,286.51 98,286.46 101,286.67 104,286.66 107,286.5 110,286.39 113,286.05 116,285.77 119,286.01 122,286.26 125,286.26 128,286.35 131,286.33 134,286.16 137,286.31 140,286.47 143,286.24 146,286.1 149,286.2 152,286.25 155,286.49 158,286.84 161,286.71 164,286.4 167,286.35 170,286.23 173,286.08 176,286.13 179,286 182,285.78 185,286.02 188,286.38 191,286.49 194,286.59 197,286.54 200,286.22 203,286.19 203,290.1 200,290.25 197,290.18 194,289.58 191,289.43 188,289.9 185,290.1 182,290.26 179,290.57 176,290.5 173,290.55 170,291.09 167,291.13 164,290.59 161,290.22 158,289.82 155,289.5 152,289.84 149,290.12 146,289.81 143,289.76 140,289.99 137,290.02 134,290.26 131,290.49 128,290.07 125,289.81 122,290.22 119,290.54 116,290.77 113,291.06 110,290.78 107,290.28 104,290.37 101,290.38 98,289.93 95,289.69 92,289.45 89,289.18 86,289.65 83,290.34 80,290.37 77,290.31 74,290.4 71,290.24 68,290.36 65,290.75 62,290.54 59,290.15 56,290.3 53,290.46 50,290.53 47,290.77 44,290.47 41,289.7 38,289.52 35,289.65 32,289.57" fill="#a2a2a2"/>
<polygon points="32,289.27 35,289.35 38,289.22 41,289.4 44,290.17 47,290.47 50,290.23 53,290.16 56,290 59,289.85 62,290.24 65,290.45 68,290.06 71,289.94 74,290.1 77,290.01 80,290.07 83,290.04 86,289.35 89,288.88 92,289.15 95,289.39 98,289.63 101,290.08 104,290.07 107,289.98 110,290.48 113,290.76 116,290.47 119,290.24 122,289.92 125,289.51 128,289.77 131,290.19 134,289.96 137,289.72 140,289.69 143,289.46 146,289.51 149,289.82 152,289.54 155,289.2 158,289.52 161,289.92 164,290.29 167,290.83 170,290.79 173,290.25 176,290.2 179,290.27 182,289.96 185,289.8 188,289.6 191,289.13 194,289.28 197,289.88 200,289.95 203,289.8 203,294.83 200,294.91 197,294.69 194,294.48 191,294.58 188,294.57 185,294.42 182,294.42 179,294.37 176,294.3 173,294.58 170,294.81 167,294.71 164,294.66 161,294.66 158,294.55 155,294.64 152,294.81 149,294.67 146,294.54 143,294.65 140,294.67 137,294.68 134,294.78 131,294.59 128,294.29 125,294.33 122,294.44 119,294.43 116,294.57 113,294.63 110,294.52 107,294.67 104,294.92 101,294.84 98,294.74 95,294.68 92,294.48 89,294.48 86,294.71 83,294.69 80,294.54 77,294.57 74,294.52 71,294.47 68,294.63 65,294.59 62,294.33 59,294.36 56,294.52 53,294.6 50,294.81 47,294.93 44,294.72 41,294.66 38,294.8 35,294.72 32,294.61" fill="#161616"/>
<polygon points="32,294.31 35,294.42 38,294.5 41,294.36 44,294.42 47,294.63 50,294.51 53,294.3 56,294.22 59,294.06 62,294.03 65,294.29 68,294.33 71,294.17 74,294.22 77,294.27 80,294.24 83,294.39 86,294.41 89,294.18 92,294.18 95,294.38 98,294.44 101,294.54 104,294.62 107,294.37 110,294.22 113,294.33 116,294.27 119,294.13 122,294.14 125,294.03 128,293.99 131,294.29 134,294.48 137,294.38 140,294.37 143,294.35 146,294.24 149,294.37 152,294.51 155,294.34 158,294.25 161,294.36 164,294.36 167,294.41 170,294.51 173,294.28 176,294 179,294.07 182,294.12 185,294.12 188,294.27 191,294.28 194,294.18 197,294.39 200,294.61 203,294.53 203,299.88 200,299.83 197,299.82 194,299.87 191,299.82 188,299.78 185,299.89 182,299.94 179,299.92 176,299.93 173,299.88 170,299.79 167,299.87 164,299.97 161,299.96 158,299.98 155,300 152,299.95 149,299.97 146,300.01 143,299.9 140,299.78 137,299.77 134,299.75 131,299.78 128,299.91 125,299.92 122,299.87 119,299.92 116,299.97 113,299.94 110,299.97 107,299.94 104,299.84 101,299.87 98,299.98 95,299.98 92,299.98 89,299.97 86,299.86 83,299.81 80,299.87 77,299.83 74,299.76 71,299.79 68,299.81 65,299.85 62,300 59,300.06 56,299.98 53,299.96 50,299.95 47,299.9 44,299.93 41,299.95 38,299.85 35,299.83 32,299.92" fill="#2a2a2a"/>
<polygon points="32,299.62 35,299.53 38,299.55 41,299.65 44,299.63 47,299.6 50,299.65 53,299.66 56,299.68 59,299.76 62,299.7 65,299.55 68,299.51 71,299.49 74,299.46 77,299.53 80,299.57 83,299.51 86,299.56 89,299.67 92,299.68 95,299.68 98,299.68 101,299.57 104,299.54 107,299.64 110,299.67 113,299.64 116,299.67 119,299.62 122,299.57 125,299.62 128,299.61 131,299.48 134,299.45 137,299.47 140,299.48 143,299.6 146,299.71 149,299.67 152,299.65 155,299.7 158,299.68 161,299.66 164,299.67 167,299.57 170,299.49 173,299.58 176,299.63 179,299.62 182,299.64 185,299.59 188,299.48 191,299.52 194,299.57 197,299.52 200,299.53 203,299.58 203,310.66 200,310.69 197,310.48 194,310.5 191,310.49 188,310.47 185,310.8 182,310.95 179,310.61 176,310.41 173,310.36 170,310.18 167,310.26 164,310.42 161,310.2 158,310.15 155,310.49 152,310.67 149,310.76 146,310.9 143,310.65 140,310.34 137,310.51 134,310.64 131,310.53 128,310.58 125,310.54 122,310.35 119,310.53 116,310.74 113,310.48 110,310.25 107,310.2 104,310.07 101,310.23 98,310.64 95,310.64 92,310.53 89,310.71 86,310.77 83,310.74 80,310.86 77,310.66 74,310.22 71,310.24 68,310.43 65,310.43 62,310.57 59,310.59 56,310.29 53,310.29 50,310.55 47,310.46 44,310.34 41,310.39 38,310.28 35,310.39 32,310.86" fill="#e0e0e0"/>
<polygon points="32,310.56 35,310.09 38,309.98 41,310.09 44,310.04 47,310.16 50,310.25 53,309.99 56,309.99 59,310.29 62,310.27 65,310.13 68,310.13 71,309.94 74,309.92 77,310.36 80,310.56 83,310.44 86,310.47 89,310.41 92,310.23 95,310.34 98,310.34 101,309.93 104,309.77 107,309.9 110,309.95 113,310.18 116,310.44 119,310.23 122,310.05 125,310.24 128,310.28 131,310.23 134,310.34 137,310.21 140,310.04 143,310.35 146,310.6 149,310.46 152,310.37 155,310.19 158,309.85 161,309.9 164,310.12 167,309.96 170,309.88 173,310.06 176,310.11 179,310.31 182,310.65 185,310.5 188,310.17 191,310.19 194,310.2 197,310.18 200,310.39 203,310.36 203,314.11 200,314.65 197,314.68 194,314.21 191,313.92 188,313.67 185,313.61 182,314.13 179,314.4 176,314.02 173,313.83 170,313.87 167,313.79 164,313.94 161,314 158,313.5 155,313.3 152,313.78 149,314.21 146,314.54 143,314.78 140,314.43 137,314 134,314.18 131,314.27 128,313.96 125,313.78 122,313.55 119,313.36 116,313.85 113,314.39 110,314.21 107,313.92 104,313.79 101,313.58 98,313.79 95,314.23 92,314.09 89,313.84 86,314.11 83,314.38 80,314.57 77,314.79 74,314.38 71,313.61 68,313.48 65,313.65 62,313.66 59,313.81 56,313.83 53,313.56 50,313.83 47,314.42 44,314.43 41,314.18 38,313.99 35,313.64 32,313.72" fill="#a2a2a2"/>
<polygon points="32,313.42 35,313.34 38,313.69 41,313.88 44,314.13 47,314.12 50,313.53 53,313.26 56,313.53 59,313.51 62,313.36 65,313.35 68,313.18 71,313.31 74,314.08 77,314.49 80,314.27 83,314.08 86,313.81 89,313.54 92,313.79 95,313.93 98,313.49 101,313.28 104,313.49 107,313.62 110,313.91 113,314.09 116,313.55 119,313.06 122,313.25 125,313.48 128,313.66 131,313.97 134,313.88 137,313.7 140,314.13 143,314.48 146,314.24 149,313.91 152,313.48 155,313 158,313.2 161,313.7 164,313.64 167,313.49 170,313.57 173,313.53 176,313.72 179,314.1 182,313.83 185,313.31 188,313.37 191,313.62 194,313.91 197,314.38 200,314.35 203,313.81 203,316.7 200,316.88 197,316.68 194,316.59 191,316.63 188,316.52 185,316.57 182,316.71 179,316.55 176,316.47 173,316.76 170,316.93 167,317 164,317.13 161,316.95 158,316.62 155,316.67 152,316.7 149,316.53 146,316.52 143,316.53 140,316.41 137,316.61 134,316.9 131,316.79 128,316.65 125,316.66 122,316.53 119,316.58 116,316.87 113,316.86 110,316.72 107,316.87 104,316.93 101,316.88 98,316.95 95,316.78 92,316.38 89,316.33 86,316.47 83,316.47 80,316.61 77,316.75 74,316.61 71,316.68 68,316.95 65,316.91 62,316.76 59,316.75 56,316.6 53,316.57 50,316.88 47,316.98 44,316.8 41,316.79 38,316.72 35,316.55 32,316.63" fill="#161616"/>
<polygon points="32,316.33 35,316.25 38,316.42 41,316.49 44,316.5 47,316.68 50,316.58 53,316.27 56,316.3 59,316.45 62,316.46 65,316.61 68,316.65 71,316.38 74,316.31 77,316.45 80,316.31 83,316.17 86,316.17 89,316.03 92,316.08 95,316.48 98,316.65 101,316.58 104,316.63 107,316.57 110,316.42 113,316.56 116,316.57 119,316.28 122,316.23 125,316.36 128,316.35 131,316.49 134,316.6 137,316.31 140,316.11 143,316.23 146,316.22 149,316.23 152,316.4 155,316.37 158,316.32 161,316.65 164,316.83 167,316.7 170,316.63 173,316.46 176,316.17 179,316.25 182,316.41 185,316.27 188,316.22 191,316.33 194,316.29 197,316.38 200,316.58 203,316.4 203,321.17 200,321.16 197,321.05 194,320.96 191,321.02 188,321.08 185,321.07 182,321.11 179,321.11 176,321.04 173,321.08 170,321.13 167,321.06 164,321.04 161,321.08 158,321.08 155,321.15 152,321.27 149,321.24 146,321.16 143,321.15 140,321.09 137,321.03 134,321.05 131,321.01 128,320.94 125,321.01 122,321.1 119,321.12 116,321.17 113,321.17 110,321.07 107,321.07 104,321.13 101,321.11 98,321.11 95,321.15 92,321.13 89,321.14 86,321.22 83,321.19 80,321.07 77,321.03 74,320.98 71,320.94 68,321.02 65,321.08 62,321.04 59,321.09 56,321.18 53,321.18 50,321.2 47,321.21 44,321.09 41,321.04 38,321.1 35,321.11 32,321.12" fill="#303030"/>
<polygon points="32,320.82 35,320.81 38,320.8 41,320.74 44,320.79 47,320.91 50,320.9 53,320.88 56,320.88 59,320.79 62,320.74 65,320.78 68,320.72 71,320.64 74,320.68 77,320.73 80,320.77 83,320.89 86,320.92 89,320.84 92,320.83 95,320.85 98,320.81 101,320.81 104,320.83 107,320.77 110,320.77 113,320.87 116,320.87 119,320.82 122,320.8 125,320.71 128,320.64 131,320.71 134,320.75 137,320.73 140,320.79 143,320.85 146,320.86 149,320.94 152,320.97 155,320.85 158,320.78 161,320.78 164,320.74 167,320.76 170,320.83 173,320.78 176,320.74 179,320.81 182,320.81 185,320.77 188,320.78 191,320.72 194,320.66 197,320.75 200,320.86 203,320.87 203,333.02 200,332.91 197,332.84 194,332.61 191,332.14 188,332.14 185,332.46 182,332.41 179,332.36 176,332.52 173,332.49 170,332.64 167,333.06 164,332.98 161,332.59 158,332.54 155,332.52 152,332.52 149,332.85 146,332.91 143,332.55 140,332.54 137,332.7 134,332.58 131,332.56 128,332.5 125,332.08 122,332.02 119,332.48 116,332.7 113,332.78 110,332.95 107,332.78 104,332.64 101,332.93 98,332.95 95,332.58 92,332.46 89,332.4 86,332.32 83,332.66 80,332.91 77,332.59 74,332.39 71,332.45 68,332.34 65,332.43 62,332.65 59,332.43 56,332.31 53,332.7 50,332.96 47,333.02 44,333.14 41,332.85 38,332.41 35,332.49 32,332.63" fill="url(#gSTEMr)"/>
<polygon points="32,332.33 35,332.19 38,332.11 41,332.55 44,332.84 47,332.72 50,332.66 53,332.4 56,332.01 59,332.13 62,332.35 65,332.13 68,332.04 71,332.15 74,332.09 77,332.29 80,332.61 83,332.36 86,332.02 89,332.1 92,332.16 95,332.28 98,332.65 101,332.63 104,332.34 107,332.48 110,332.65 113,332.48 116,332.4 119,332.18 122,331.72 125,331.78 128,332.2 131,332.26 134,332.28 137,332.4 140,332.24 143,332.25 146,332.61 149,332.55 152,332.22 155,332.22 158,332.24 161,332.29 164,332.68 167,332.76 170,332.34 173,332.19 176,332.22 179,332.06 182,332.11 185,332.16 188,331.84 191,331.84 194,332.31 197,332.54 200,332.61 203,332.72 203,336.18 200,336.61 197,337.13 194,336.96 191,336.72 188,336.47 185,335.78 182,335.5 179,335.79 176,335.69 173,335.52 170,335.81 167,335.86 164,335.88 161,336.31 158,336.3 155,335.81 152,335.84 149,336.06 146,336.11 143,336.59 140,336.94 137,336.62 134,336.51 131,336.67 128,336.3 125,335.92 122,335.76 119,335.22 116,334.98 113,335.55 110,335.91 107,335.99 104,336.34 101,336.37 98,336.14 95,336.45 92,336.6 89,336.18 86,336.11 83,336.28 80,336.21 77,336.5 74,336.83 71,336.36 68,335.87 65,335.8 62,335.49 59,335.3 56,335.57 53,335.49 50,335.42 47,336.06 44,336.61 41,336.7 38,336.91 35,336.77 32,336.19" fill="#8a8a8a"/>
<polygon points="32,335.89 35,336.47 38,336.61 41,336.4 44,336.31 47,335.76 50,335.12 53,335.19 56,335.27 59,335 62,335.19 65,335.5 68,335.57 71,336.06 74,336.53 77,336.2 80,335.91 83,335.98 86,335.81 89,335.88 92,336.3 95,336.15 98,335.84 101,336.07 104,336.04 107,335.69 110,335.61 113,335.25 116,334.68 119,334.92 122,335.46 125,335.62 128,336 131,336.37 134,336.21 137,336.32 140,336.64 143,336.29 146,335.81 149,335.76 152,335.54 155,335.51 158,336 161,336.01 164,335.58 167,335.56 170,335.51 173,335.22 176,335.39 179,335.49 182,335.2 185,335.48 188,336.17 191,336.42 194,336.66 197,336.83 200,336.31 203,335.88 203,358.3 200,358.3 197,358.3 194,358.3 191,358.3 188,358.3 185,358.3 182,358.3 179,358.3 176,358.3 173,358.3 170,358.3 167,358.3 164,358.3 161,358.3 158,358.3 155,358.3 152,358.3 149,358.3 146,358.3 143,358.3 140,358.3 137,358.3 134,358.3 131,358.3 128,358.3 125,358.3 122,358.3 119,358.3 116,358.3 113,358.3 110,358.3 107,358.3 104,358.3 101,358.3 98,358.3 95,358.3 92,358.3 89,358.3 86,358.3 83,358.3 80,358.3 77,358.3 74,358.3 71,358.3 68,358.3 65,358.3 62,358.3 59,358.3 56,358.3 53,358.3 50,358.3 47,358.3 44,358.3 41,358.3 38,358.3 35,358.3 32,358.3" fill="#3c3c3c"/>
</g></g>
<text transform="translate(38.8 280.7) scale(0.93 1)" font-size="7.88" fill="#e00000" text-anchor="start" font-weight="bold" font-family='"Liberation Serif", "Noto Serif CJK SC", serif' >(a) STEM</text>
<text transform="translate(134 350.6) scale(0.93 1)" font-size="7.78" fill="#e00000" text-anchor="start" font-weight="bold" font-family='"Liberation Serif", "Noto Serif CJK SC", serif' >No spikes observed</text>
<text x="40.6" y="348.6" font-size="8.2" fill="#fff" font-family='"Liberation Sans", sans-serif' textLength="27" lengthAdjust="spacingAndGlyphs">100 nm</text>
<rect x="40.6" y="349.9" width="19.2" height="2" fill="#fff"/>
<g clip-path="url(#cTEM)"><g filter="url(#b1)">
<rect x="203" y="266" width="122" height="92" fill="url(#gTEMco)"/>
<polygon points="203,262.48 325,248.57 325,271.56 203,285.58" fill="url(#gTEMtop)" />
<polygon points="203,262 270,262 270,270.4 203,279.2" fill="url(#gTEMwedge)" filter="url(#b1)"/>
<polygon points="203,284.68 325,270.66 325,272.06 203,286.08" fill="url(#gTEMline)" />
<polygon points="203,328.4 325,313.74 325,319.14 203,333.91" fill="#343434" />
<polygon points="203,327.8 325,313.14 325,314.34 203,329" fill="#5c5c5c" />
<polygon points="203,333.91 325,319.14 325,325.96 203,340.19" fill="url(#gTEMsix)" />
<polygon points="203,333.41 325,318.64 325,319.64 203,334.41" fill="#5a5a5a" />
<polygon points="203,339.79 325,325.56 325,365.53 203,380.52" fill="url(#gTEMbot)" />
</g>
<rect x="203" y="326" width="122" height="30" fill="url(#gTEMbotv)"/>
<rect x="207.2" y="271.2" width="114" height="83.6" filter="url(#nzA)" style="mix-blend-mode:soft-light" opacity="0.3"/>
<rect x="207.2" y="271.2" width="114" height="83.6" filter="url(#nzC)" style="mix-blend-mode:screen" opacity="0.10"/>
</g>
<text transform="translate(247.5,279.3) rotate(-8)" font-size="5.8" font-weight="bold" fill="#e00000" text-anchor="middle" font-family='"Liberation Serif", "Noto Serif CJK SC", serif'>TiN</text>
<text transform="translate(248.8 303.9) scale(0.93 1)" font-size="6.26" fill="#e00000" text-anchor="middle" font-weight="bold" font-family='"Liberation Serif", "Noto Serif CJK SC", serif' >Co</text>
<text transform="translate(252,327.3) rotate(-8)" font-size="5.8" font-weight="bold" fill="#e00000" text-anchor="middle" font-family='"Liberation Serif", "Noto Serif CJK SC", serif'>Co-Ti-Si</text>
<text transform="translate(252.6,333.5) rotate(-8)" font-size="5.8" font-weight="bold" fill="#e00000" text-anchor="middle" font-family='"Liberation Serif", "Noto Serif CJK SC", serif'>CoSix</text>
<text x="214.4" y="346.4" font-size="7.1" fill="#000" font-family='"DejaVu Sans", sans-serif' textLength="25.6" lengthAdjust="spacing">20 nm</text>
<rect x="214.4" y="347.5" width="21.8" height="1.4" fill="#000"/>
<g clip-path="url(#cEELS)">
<rect x="34.5" y="359.5" width="68.8" height="97" fill="url(#gEELS)"/>
<rect x="34.5" y="359.5" width="68.8" height="97" fill="url(#gEELSv)"/>
<rect x="34.5" y="360" width="68.8" height="96" filter="url(#nzA)" style="mix-blend-mode:soft-light" opacity="0.16"/>
</g>
<rect x="73.2" y="374.8" width="28" height="7.4" fill="#fff" stroke="#2e9a2e" stroke-width="0.7"/>
<text x="74" y="380.5" font-size="4.4" fill="#111" font-family='"Liberation Sans", sans-serif' textLength="26.4" lengthAdjust="spacingAndGlyphs">Spectrum Image</text>
<rect x="73.4" y="383.4" width="15.4" height="6.2" fill="none" stroke="#2e8a2e" stroke-width="0.6"/>
<text transform="translate(35.8 367.8) scale(0.93 1)" font-size="7.83" fill="#e00000" text-anchor="start" font-weight="bold" font-family='"Liberation Serif", "Noto Serif CJK SC", serif' >(b) EELS mapping</text>
<text x="36.9" y="447.4" font-size="7.5" fill="#000" font-family='"Liberation Sans", sans-serif' textLength="20.8" lengthAdjust="spacingAndGlyphs">0.5 um</text>
<rect x="36.9" y="448.2" width="18.4" height="2.4" fill="#000"/>
<rect x="104" y="359.8" width="72" height="32.4" fill="url(#gImg)"/>
<rect x="104" y="359.8" width="72" height="32.4" fill="url(#gImgv)"/>
<rect x="104" y="392.1" width="72" height="31.5" fill="url(#gCoG)"/>
<rect x="104" y="423.5" width="72" height="32.8" fill="url(#gSiR)"/>
<rect x="104" y="360" width="72" height="63.5" filter="url(#nzB)" style="mix-blend-mode:overlay" opacity="0.16"/>
<text transform="translate(108.2 369.2) scale(0.93 1)" font-size="8.21" fill="#000" text-anchor="start" font-weight="bold" font-family='"Liberation Serif", "Noto Serif CJK SC", serif' >Img</text>
<text transform="translate(106.3 400.5) scale(0.93 1)" font-size="7.94" fill="#fff" text-anchor="start" font-weight="bold" font-family='"Liberation Serif", "Noto Serif CJK SC", serif' >Co map</text>
<text transform="translate(107.9 432.1) scale(0.93 1)" font-size="7.94" fill="#fff" text-anchor="start" font-weight="bold" font-family='"Liberation Serif", "Noto Serif CJK SC", serif' >Si map</text>
<rect x="178.8" y="359.8" width="68.3" height="96.5" fill="url(#gENL)"/>
<text transform="translate(180.9 369.7) scale(0.93 1)" font-size="7.67" fill="#e00000" text-anchor="start" font-weight="bold" font-family='"Liberation Serif", "Noto Serif CJK SC", serif' >Enlarged interface</text>
<rect x="204.3" y="389.1" width="20.6" height="5.2" fill="#fff" stroke="#2e9a2e" stroke-width="0.7"/>
<text x="205" y="393.1" font-size="3.2" fill="#111" font-family='"Liberation Sans", sans-serif' textLength="19.2" lengthAdjust="spacingAndGlyphs">Spectrum Image</text>
<rect x="204.4" y="395.4" width="15.2" height="5.2" fill="none" stroke="#2e8a2e" stroke-width="0.6"/>
<text x="181.9" y="437.7" font-size="7.4" fill="#fff" font-family='"Liberation Sans", sans-serif' textLength="16.6" lengthAdjust="spacingAndGlyphs">50 nm</text>
<rect x="181.9" y="439" width="18.2" height="2" fill="#fff"/>
<rect x="247" y="359.8" width="73.8" height="33.4" fill="#060606"/>
<path d="M294.2 360 L309.3 360 C309.8 371 310.8 382 312.2 393 L299.6 393 C297.8 382 295.6 371 294.2 360Z" fill="#bdb422"/>
<rect x="247" y="393" width="73.8" height="30.8" fill="url(#gCoC)"/>
<rect x="247" y="423.6" width="73.8" height="32.7" fill="url(#gSiB)"/>
<rect x="247" y="360" width="73.8" height="96" filter="url(#nzB)" style="mix-blend-mode:overlay" opacity="0.3"/>
<text transform="translate(249.9 369.7) scale(0.93 1)" font-size="7.78" fill="#fff" text-anchor="start" font-weight="bold" font-family='"Liberation Serif", "Noto Serif CJK SC", serif' >Ti map</text>
<text transform="translate(249.9 402.4) scale(0.93 1)" font-size="7.78" fill="#fff" text-anchor="start" font-weight="bold" font-family='"Liberation Serif", "Noto Serif CJK SC", serif' >Co map</text>
<text transform="translate(249.9 432) scale(0.93 1)" font-size="7.78" fill="#fff" text-anchor="start" font-weight="bold" font-family='"Liberation Serif", "Noto Serif CJK SC", serif' >Si map</text>
</g>
<g id="panel-d">
<text id="lab-d" y="259" fill="#000" font-family='"Liberation Sans", "Noto Sans CJK SC", sans-serif'><tspan x="318.65" font-size="15" font-weight="300">（</tspan><tspan x="337.05" font-size="16.5" font-weight="400">d</tspan><tspan x="349.5" font-size="15" font-weight="300">）</tspan></text>
<rect x="390.2" y="272.1" width="225.1" height="180.8" fill="none" stroke="#000" stroke-width="1.3"/>
<path d="M390.2 453.15h3.4M390.2 428.95h3.4M390.2 404.75h3.4M390.2 380.55h3.4M390.2 356.35h3.4M390.2 332.15h3.4M390.2 307.95h3.4M390.2 283.75h3.4M390.2 441.05h1.8M390.2 416.85h1.8M390.2 392.65h1.8M390.2 368.45h1.8M390.2 344.25h1.8M390.2 320.05h1.8M390.2 295.85h1.8" stroke="#000" stroke-width="1.1" fill="none"/>
<text transform="translate(386.8 456.1) scale(0.93 1)" font-size="11.61" fill="#000" text-anchor="end" font-weight="bold" font-family='"Liberation Serif", "Noto Serif CJK SC", serif' >5</text>
<text transform="translate(386.8 431.9) scale(0.93 1)" font-size="11.61" fill="#000" text-anchor="end" font-weight="bold" font-family='"Liberation Serif", "Noto Serif CJK SC", serif' >10</text>
<text transform="translate(386.8 407.7) scale(0.93 1)" font-size="11.61" fill="#000" text-anchor="end" font-weight="bold" font-family='"Liberation Serif", "Noto Serif CJK SC", serif' >15</text>
<text transform="translate(386.8 383.5) scale(0.93 1)" font-size="11.61" fill="#000" text-anchor="end" font-weight="bold" font-family='"Liberation Serif", "Noto Serif CJK SC", serif' >20</text>
<text transform="translate(386.8 359.3) scale(0.93 1)" font-size="11.61" fill="#000" text-anchor="end" font-weight="bold" font-family='"Liberation Serif", "Noto Serif CJK SC", serif' >25</text>
<text transform="translate(386.8 335.1) scale(0.93 1)" font-size="11.61" fill="#000" text-anchor="end" font-weight="bold" font-family='"Liberation Serif", "Noto Serif CJK SC", serif' >30</text>
<text transform="translate(386.8 310.9) scale(0.93 1)" font-size="11.61" fill="#000" text-anchor="end" font-weight="bold" font-family='"Liberation Serif", "Noto Serif CJK SC", serif' >35</text>
<text transform="translate(386.8 286.7) scale(0.93 1)" font-size="11.61" fill="#000" text-anchor="end" font-weight="bold" font-family='"Liberation Serif", "Noto Serif CJK SC", serif' >40</text>
<text transform="translate(496 467.7) scale(0.93 1)" font-size="11.12" fill="#000" text-anchor="middle" font-weight="bold" font-family='"Liberation Serif", "Noto Serif CJK SC", serif' >Different contact condition</text>
<text transform="translate(367.9,371.15) rotate(-90)" font-size="11.2" font-weight="bold" text-anchor="middle" textLength="175.5" lengthAdjust="spacingAndGlyphs" font-family='"Liberation Serif", "Noto Serif CJK SC", serif'>Specific contact resistivity (×10<tspan font-size="62%" dy="-0.65em">-9</tspan><tspan dy="0.4em">&#8203;</tspan> Ω-cm<tspan font-size="62%" dy="-0.65em">2</tspan><tspan dy="0.4em">&#8203;</tspan>)</text>
<text transform="translate(612.8 268.2) scale(0.93 1)" font-size="10.15" fill="#000" text-anchor="end" font-weight="bold" font-family='"Liberation Serif", "Noto Serif CJK SC", serif' >@ 500 <tspan font-size="62%" dy="-0.68em">o</tspan><tspan dy="0.42em">&#8203;</tspan>C/1 min</text>
<rect x="399.6" y="283" width="56.8" height="28.1" fill="none" stroke="#000" stroke-width="1.3" stroke-dasharray="2.5 1.55"/>
<rect x="444" y="329.3" width="85.1" height="56.8" fill="none" stroke="#ff0000" stroke-width="1.3" stroke-dasharray="2.5 1.55"/>
<rect x="524.8" y="389.7" width="86" height="60.9" fill="none" stroke="#0000ff" stroke-width="1.3" stroke-dasharray="1.9 1.35"/>
<path d="M427.4 286.3V308.5M424.6 286.3h5.6M424.6 308.5h5.6" stroke="#000" stroke-width="1.2" fill="none"/><rect x="424.9" y="294.2" width="5" height="5.4" fill="#000"/>
<path d="M477.3 340.4V351.8M474.5 340.4h5.6M474.5 351.8h5.6" stroke="#ff0000" stroke-width="1.2" fill="none"/><rect x="474.8" y="343.3" width="5" height="5.4" fill="#ff0000"/>
<path d="M502.8 358.8V372.2M500 358.8h5.6M500 372.2h5.6" stroke="#ff0000" stroke-width="1.2" fill="none"/><rect x="500.3" y="363" width="5" height="5.4" fill="#ff0000"/>
<path d="M552.6 391.2V403.8M549.8 391.2h5.6M549.8 403.8h5.6" stroke="#0000ff" stroke-width="1.2" fill="none"/><rect x="550.1" y="394.8" width="5" height="5.4" fill="#0000ff"/>
<path d="M577.4 431.4V440.5M574.6 431.4h5.6M574.6 440.5h5.6" stroke="#0000ff" stroke-width="1.2" fill="none"/><rect x="574.9" y="433.3" width="5" height="5.4" fill="#0000ff"/>
<text transform="translate(401.8 281) scale(0.93 1)" font-size="9.23" fill="#000" text-anchor="start" font-weight="bold" font-family='"Liberation Serif", "Noto Serif CJK SC", serif' >Without CoTi</text>
<text transform="translate(455.2 324.3) scale(0.93 1)" font-size="8.75" fill="#ff0000" text-anchor="start" font-weight="bold" font-family='"Liberation Serif", "Noto Serif CJK SC", serif' >With Co<tspan font-size="78%" dy="0.35em">0.75</tspan><tspan dy="-0.27em">&#8203;</tspan>Ti<tspan font-size="78%" dy="0.35em">0.25</tspan><tspan dy="-0.27em">&#8203;</tspan></text>
<text transform="translate(448.6 360.5) scale(0.93 1)" font-size="7.51" fill="#ff0000" text-anchor="start" font-weight="bold" font-family='"Liberation Serif", "Noto Serif CJK SC", serif' >Without Ge PAI</text>
<text transform="translate(484.4 379.8) scale(0.93 1)" font-size="7.51" fill="#ff0000" text-anchor="start" font-weight="bold" font-family='"Liberation Serif", "Noto Serif CJK SC", serif' >With Ge PAI</text>
<text transform="translate(543 383.8) scale(0.93 1)" font-size="8.86" fill="#0000ff" text-anchor="start" font-weight="bold" font-family='"Liberation Serif", "Noto Serif CJK SC", serif' >With Co<tspan font-size="78%" dy="0.35em">0.65</tspan><tspan dy="-0.27em">&#8203;</tspan>Ti<tspan font-size="78%" dy="0.35em">0.35</tspan><tspan dy="-0.27em">&#8203;</tspan></text>
<text transform="translate(531.6 412.9) scale(0.93 1)" font-size="7.51" fill="#0000ff" text-anchor="start" font-weight="bold" font-family='"Liberation Serif", "Noto Serif CJK SC", serif' >Without Ge PAI</text>
<text transform="translate(558.4 448.8) scale(0.93 1)" font-size="7.51" fill="#0000ff" text-anchor="start" font-weight="bold" font-family='"Liberation Serif", "Noto Serif CJK SC", serif' >With Ge PAI</text>
</g>
<g id="caption" font-family='"Liberation Serif", "Noto Serif CJK SC", serif' font-size="14.67" font-weight="500" fill="#000">
<text id="cap1" x="11" y="495" textLength="609" lengthAdjust="spacing">图 1 （a）不同组分 CoTi 合金电阻率变化；（b）C-V 测试曲线；（c）元素分布与 TEM 截</text>
<text id="cap2" x="11" y="515.3">面；（d）<tspan x="79.4" letter-spacing="0.62">接触电阻率测试结果</tspan></text>
</g>
</svg>
</body>
</html>
